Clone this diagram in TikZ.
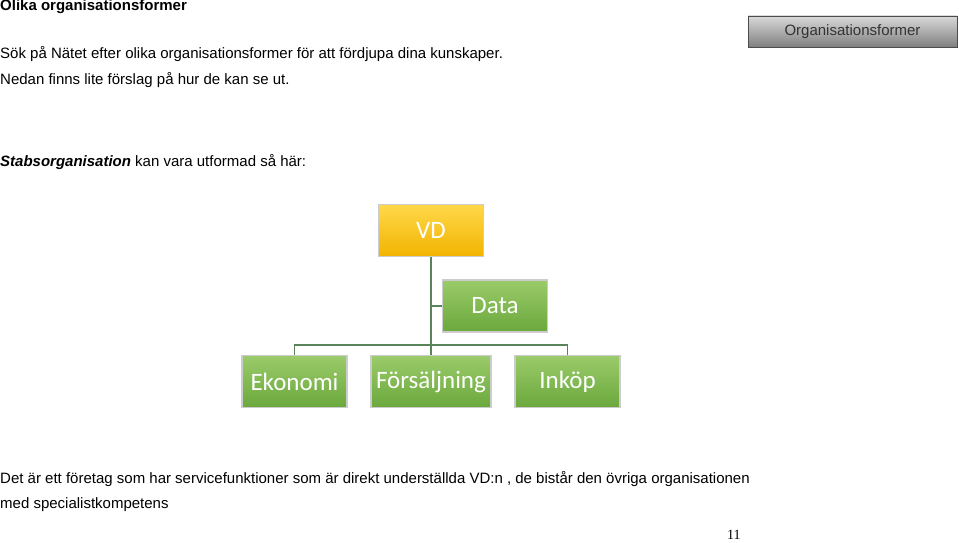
\documentclass[tikz,border=0pt]{standalone}
\usepackage{fontspec}
\setmainfont{Liberation Sans}
\newfontfamily\calibri{Carlito}
\newfontfamily\timesfont{Liberation Serif}
\definecolor{greentop}{HTML}{9BCB6A}
\definecolor{greenbot}{HTML}{6AA83C}
\definecolor{goldtop}{HTML}{FFD84A}
\definecolor{goldbot}{HTML}{F2B400}
\begin{document}
\begin{tikzpicture}[x=1pt, y=-1pt,
  unitbox/.style={draw=white!80!black, line width=1.2pt, minimum width=105pt, minimum height=52pt,
    inner sep=0pt, font=\calibri\fontsize{25}{27}\selectfont, text=white},
  greenbox/.style={unitbox, top color=greentop, bottom color=greenbot},
  body/.style={anchor=west, font=\fontsize{15}{17}\selectfont, inner sep=0pt}]
\useasboundingbox (0,0) rectangle (959,543);
% Heading and text
\node[body, font=\bfseries\fontsize{15}{17}\selectfont] (title) at (0,7) {Olika organisationsformer};
\node[body] (line1) at (0,54) {Sök på Nätet efter olika organisationsformer för att fördjupa dina kunskaper.};
\node[body] (line2) at (0,80) {Nedan finns lite förslag på hur de kan se ut.};
\node[body] (stab) at (0,162) {\textbf{\textit{Stabsorganisation}} kan vara utformad så här:};
\node[body] (foot1) at (0,479) {Det är ett företag som har servicefunktioner som är direkt underställda VD:n , de bistår den övriga organisationen};
\node[body] (foot2) at (0,505) {med specialistkompetens};
\node[anchor=west, inner sep=0pt, font=\timesfont\fontsize{14}{16}\selectfont] (page) at (727,535) {11};
% Header tab
\node[draw=black!70, top color=black!15, bottom color=black!50, minimum width=209pt, minimum height=31pt,
  inner sep=0pt, font=\fontsize{15}{17}\selectfont, text=black!80] (tab) at (852.5,31.5) {Organisationsformer};
% Chart
\node[unitbox, top color=goldtop, bottom color=goldbot] (vd) at (431,230.5) {VD};
\node[greenbox] (data) at (495,306) {Data};
\node[greenbox] (eko) at (294.5,381.5) {Ekonomi};
\node[greenbox, minimum width=120pt] (fors) at (431,381.5) {Försäljning};
\node[greenbox] (ink) at (567.5,381.5) {Inköp};
\coordinate (hub) at (431,345);
\begin{scope}[draw=black!45!green!30!gray, line width=1.2pt]
\draw (vd.south) -- (hub);
\draw (data.west) -- (data.west -| hub);
\draw (eko.north) |- (hub) -| (ink.north);
\draw (hub) -- (fors.north);
\end{scope}
\end{tikzpicture}
\end{document}
